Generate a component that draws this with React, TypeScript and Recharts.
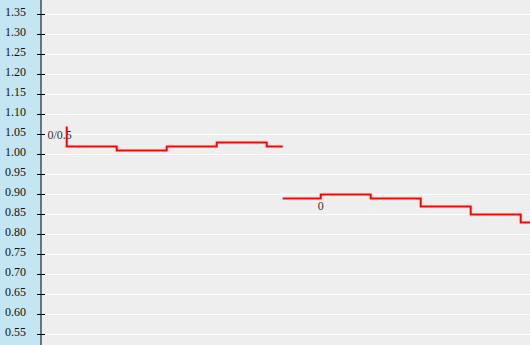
import React from 'react';
import {
  ComposedChart, Line, XAxis, YAxis, CartesianGrid, ReferenceDot,
} from 'recharts';

// before the break
const xsA = [0, 10, 20, 30, 40, 43.2];
const valsA = [1.07, 1.02, 1.01, 1.02, 1.03, 1.02];
// after the break
const xsB = [43.2, 50.8, 60.8, 70.8, 80.8, 90.8, 96];
const valsB = [0.89, 0.89, 0.9, 0.89, 0.87, 0.85, 0.83];

const yTicks = [0.55, 0.6, 0.65, 0.7, 0.75, 0.8, 0.85, 0.9, 0.95, 1.0, 1.05, 1.1, 1.15, 1.2, 1.25, 1.3, 1.35];

const markX = [-1.4, 50.8];
const markY = [1.05, 0.871];
const markText = ['0/0.5', '0'];

const seriesA = xsA.map((x, i) => ({ x, v: valsA[i] }));
const seriesB = xsB.map((x, i) => ({ x, v: valsB[i] }));

const FONT = '"Liberation Serif", "Times New Roman", serif';

function YTick(props: any) {
  const { x, y, payload } = props;
  return (
    <g>
      <line x1={x - 4} x2={x + 4} y1={y} y2={y} stroke="#000" />
      <text x={x - 15} y={y + 1} textAnchor="end" fontFamily={FONT} fontSize={12} fill="#111">
        {Number(payload.value).toFixed(2)}
      </text>
    </g>
  );
}

export default function App() {
  return (
    <div style={{ position: 'fixed', left: 0, top: 0, width: 530, height: 345, background: '#c4e6f2' }}>
      <ComposedChart width={530} height={345} margin={{ top: 0, right: 0, bottom: 0, left: 0 }}>
        <CartesianGrid fill="#eeeeee" stroke="#ffffff" vertical={false} horizontalValues={yTicks} />
        <XAxis
          type="number"
          dataKey="x"
          domain={[-5.14, 92.66]}
          allowDataOverflow
          hide
        />
        <YAxis
          type="number"
          domain={[0.52375, 1.38625]}
          ticks={yTicks}
          allowDataOverflow
          width={41}
          tickSize={0}
          tickMargin={0}
          tickLine={false}
          axisLine={{ stroke: '#000' }}
          tick={<YTick />}
          interval={0}
        />
        {markText.map((t, i) => (
          <ReferenceDot
            key={t + i}
            x={markX[i]}
            y={markY[i]}
            r={0}
            stroke="none"
            fill="none"
            ifOverflow="visible"
            label={(p: any) => {
              const vb = p.viewBox || {};
              const cx = (vb.x ?? 0) + (vb.width ?? 0) / 2;
              const cy = (vb.y ?? 0) + (vb.height ?? 0) / 2;
              return (
                <text x={cx} y={cy + 4} textAnchor="middle" fontFamily={FONT} fontSize={12} fill="#333">
                  {t}
                </text>
              );
            }}
          />
        ))}
        <Line data={seriesA} dataKey="v" type="stepBefore" stroke="#ff0000" strokeWidth={2} dot={false} isAnimationActive={false} />
        <Line data={seriesB} dataKey="v" type="stepBefore" stroke="#ff0000" strokeWidth={2} dot={false} isAnimationActive={false} />
      </ComposedChart>
    </div>
  );
}
